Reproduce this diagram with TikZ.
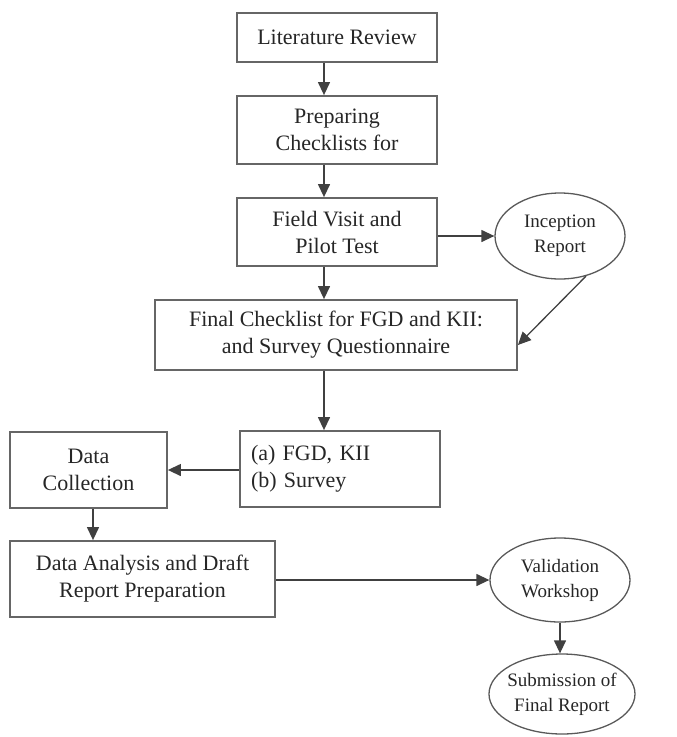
\documentclass[tikz,border=0pt]{standalone}
\usepackage{fontspec}
\setmainfont{Liberation Serif}
\usetikzlibrary{shapes.geometric,arrows.meta,calc}
\begin{document}
\begin{tikzpicture}[x=1pt,y=-1pt,
  every node/.style={font=\fontsize{22}{27}\selectfont, text=black!85},
  box/.style={draw=black!60, line width=1.8pt, rectangle, align=center, inner sep=0pt},
  oval/.style={draw=black!65, line width=1.3pt, ellipse, align=center, inner sep=-6pt,
    font=\fontsize{19}{25}\selectfont},
  conn/.style={draw=black!75, line width=1.3pt, -{Triangle[length=13pt,width=12pt]}}]
\useasboundingbox (0,0) rectangle (677,737);
\node[box, minimum width=200, minimum height=49] (lr) at (337,37.5) {Literature Review};
\node[box, minimum width=200, minimum height=68] (pc) at (337,130) {Preparing\\Checklists for};
\node[box, minimum width=200, minimum height=68] (fv) at (337,232) {Field Visit and\\Pilot Test};
\node[oval, minimum width=130, minimum height=86] (ir) at (560,236) {Inception\\Report};
\node[box, minimum width=362, minimum height=70] (fc) at (336,335) {Final Checklist for FGD and KII:\\and Survey Questionnaire};
\node[box, minimum width=200, minimum height=76, text width=178, inner xsep=11, align=left] (fgd) at (340,469) {(a) FGD, KII\\(b) Survey};
\node[box, minimum width=157, minimum height=76] (dc) at (88.5,470) {Data\\Collection};
\node[box, minimum width=265, minimum height=76] (da) at (142.5,579) {Data Analysis and Draft\\Report Preparation};
\node[oval, minimum width=140, minimum height=84] (vw) at (560,580) {Validation\\Workshop};
\node[oval, minimum width=146, minimum height=80] (sf) at (562,694) {Submission of\\Final Report};
\draw[conn] (lr.south -| 324,0) -- (pc.north -| 324,0);
\draw[conn] (pc.south -| 324,0) -- (fv.north -| 324,0);
\draw[conn] (fv.south -| 324,0) -- (fc.north -| 324,0);
\draw[conn] (fc.south -| 324,0) -- (fgd.north -| 324,0);
\draw[conn] (fv.east |- ir.west) -- (ir.west);
\draw[conn] (ir.-57) -- ([yshift=-10]fc.east);
\draw[conn] (fgd.west |- 0,470) -- (dc.east |- 0,470);
\draw[conn] (dc.south -| 93,0) -- (da.north -| 93,0);
\draw[conn] (da.east |- vw.west) -- (vw.west);
\draw[conn] (vw.south) -- (vw.south |- sf.north);
\end{tikzpicture}
\end{document}
